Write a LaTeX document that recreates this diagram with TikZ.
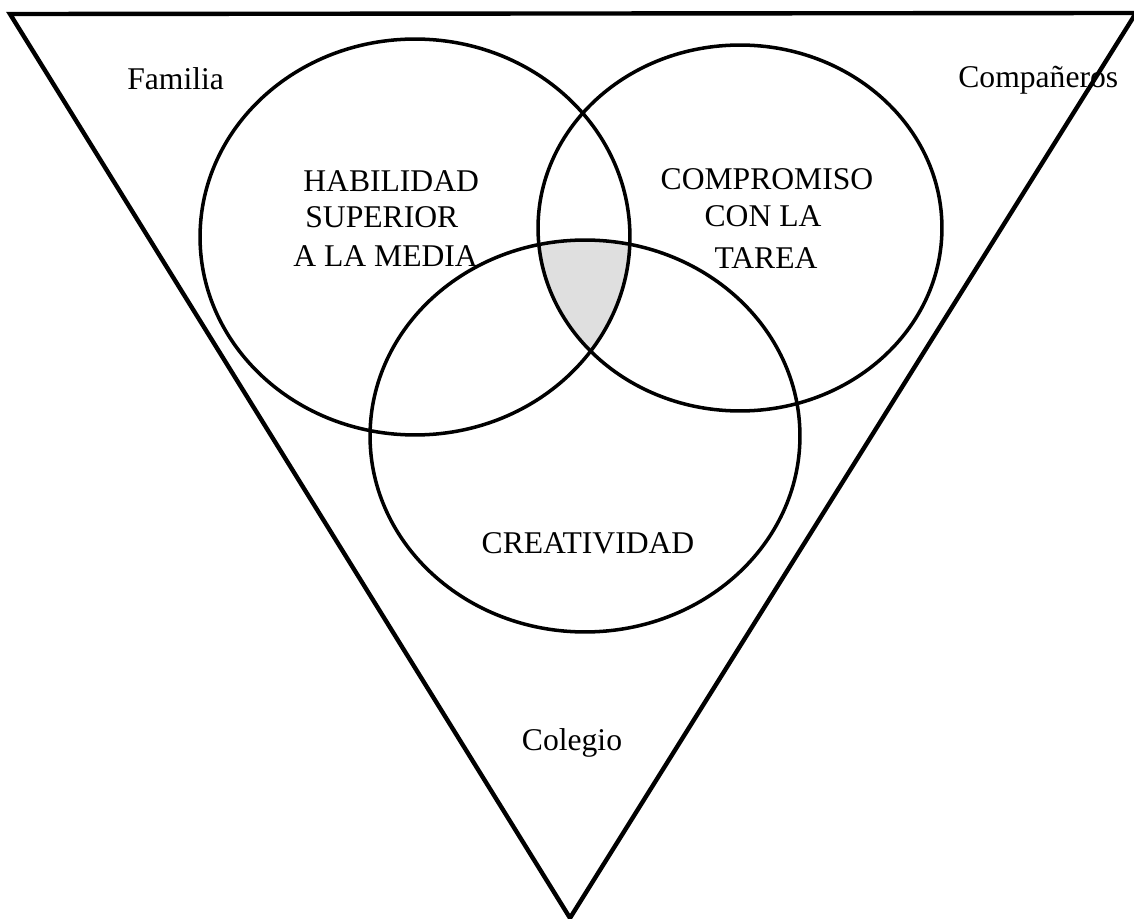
\documentclass[tikz,border=0pt]{standalone}
\usepackage{fontspec}
\setmainfont{Liberation Serif}

\tikzset{
  edge/.style={line width=2.5pt},
  ring/.style={line width=2pt},
  lbl/.style={inner sep=0pt, font=\fontsize{18}{20}\selectfont}
}

\begin{document}
\begin{tikzpicture}[x=0.02cm, y=-0.02cm]

\useasboundingbox (0,0) rectangle (1134,919);

% shaded core
\begin{scope}
\clip (415,237) ellipse [x radius=4.30cm, y radius=3.96cm];
\clip (740,228) ellipse [x radius=4.04cm, y radius=3.66cm];
\fill[gray!25] (585,436) ellipse [x radius=4.30cm, y radius=3.92cm];
\end{scope}

\draw[edge] (10,14)--(1136,13)--(570,918)--cycle;

\draw[ring] (415,237) ellipse [x radius=4.30cm, y radius=3.96cm];
\draw[ring] (740,228) ellipse [x radius=4.04cm, y radius=3.66cm];
\draw[ring] (585,436) ellipse [x radius=4.30cm, y radius=3.92cm];

{
\node[lbl, anchor=base west] (fam) at (127,90) {Familia};
\node[lbl, anchor=base west] (comp) at (958,88) {Compañeros};
\node[lbl, anchor=base] (col) at (572,750) {Colegio};
}

{
\node[lbl, anchor=base west] (hab1) at (303,192) {HABILIDAD};
\node[lbl, anchor=base west] (hab2) at (305,228) {SUPERIOR};
\node[lbl, anchor=base west] (hab3) at (293,267) {A LA MEDIA};

\node[lbl, anchor=base] (tar1) at (767,190) {COMPROMISO};
\node[lbl, anchor=base] (tar2) at (763,227) {CON LA};
\node[lbl, anchor=base] (tar3) at (766,269) {TAREA};

\node[lbl, anchor=base] (cre) at (588,553) {CREATIVIDAD};
}

\end{tikzpicture}
\end{document}
